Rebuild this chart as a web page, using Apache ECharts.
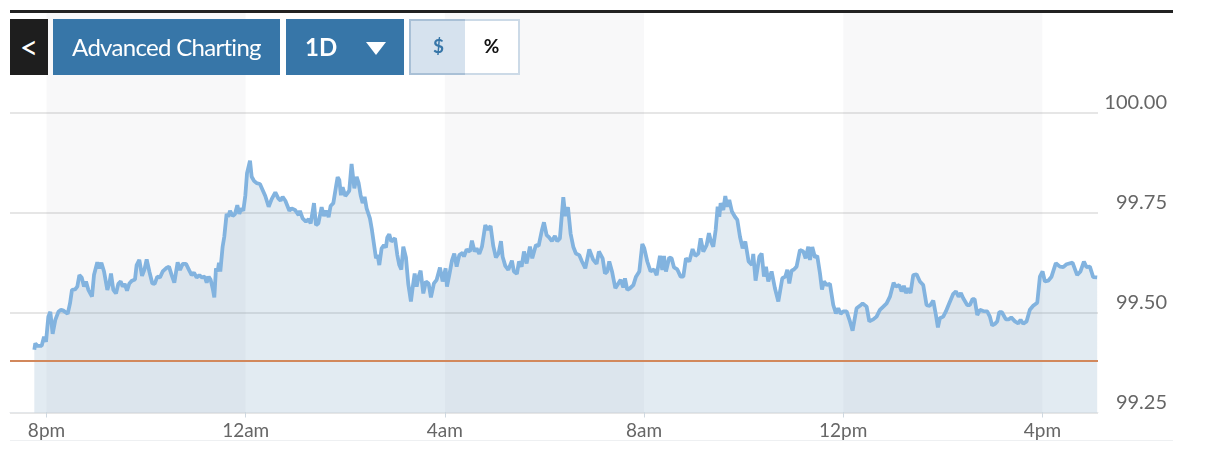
<!DOCTYPE html>
<html>
<head>
<meta charset="utf-8">
<title>1D chart</title>
<script src="https://cdn.jsdelivr.net/npm/echarts@6/dist/echarts.min.js"></script>
<style>
    html, body { margin: 0; padding: 0; background: #fff; font-family: Lato, sans-serif; }
    #wrap { position: relative; width: 1205px; height: 457px; overflow: hidden; }
    #main { position: absolute; left: 0; top: 0; width: 1205px; height: 457px; }
    .rule { position: absolute; left: 10px; width: 1163px; }
    .btn { position: absolute; top: 19px; height: 56px; line-height: 56px; text-align: center; box-sizing: border-box; }
    .blue { background: #3776a8; color: #fff; font-size: 24px; }
</style>
</head>
<body>
<div id="wrap">
    <div id="main"></div>
    <div class="rule" style="top: 10px; height: 3px; background: #222"></div>
    <div class="rule" style="top: 440px; height: 1px; background: #eef0f2"></div>
    <div class="btn" style="left: 10px; width: 38px; background: #1e1e1e; color: #fff; font-size: 32px; line-height: 56px">&lt;</div>
    <div class="btn blue" style="left: 53px; width: 227px; letter-spacing: -0.7px">Advanced Charting</div>
    <div class="btn blue" style="left: 286px; width: 118px; font-weight: 700; text-align: left; padding-left: 19px">1D</div>
    <div style="position: absolute; left: 366px; top: 42px; width: 0; height: 0; border-left: 10px solid transparent; border-right: 10px solid transparent; border-top: 13px solid #fff"></div>
    <div class="btn" style="left: 409px; width: 57px; background: #d6e2ee; border: 2px solid #a9c0d6; border-right: 0; color: #3776a8; font-size: 19px; font-weight: 700; line-height: 50px">$</div>
    <div class="btn" style="left: 465px; width: 55px; background: #fff; border: 2px solid #ccdae7; border-left: 0; color: #111; font-size: 19px; font-weight: 700; line-height: 50px">%</div>
</div>
<script>
    // minutes after 8pm
    var minutes = [
        -14.7, -13.5, -11.0, -8.6, -5.8, -3.0, -0.6, 2.2, 4.6, 7.4, 10.6, 14.3, 17.5, 20.3, 22.7, 25.5, 28.3, 30.7, 34.3, 37.1,
        39.6, 42.4, 45.2, 47.6, 50.4, 52.4, 54.8, 57.2, 61.2, 63.7, 66.1, 69.3, 73.3, 75.7, 77.7, 80.5, 83.7, 86.5, 89.4, 91.8,
        94.2, 97.0, 99.8, 103.0, 106.6, 108.6, 111.8, 115.1, 117.9, 120.7, 123.9, 127.5, 130.3, 133.5, 136.7, 140.0, 144.0, 147.6, 150.8, 154.0,
        158.0, 160.8, 164.1, 168.1, 172.1, 174.9, 177.7, 180.9, 184.1, 187.4, 190.6, 193.0, 195.4, 197.8, 200.2, 202.2, 204.2, 206.2, 207.8, 209.4,
        212.2, 214.2, 217.0, 219.1, 221.1, 224.3, 227.1, 229.9, 232.3, 234.7, 237.1, 239.6, 241.6, 244.0, 245.2, 247.2, 250.0, 253.2, 257.2, 260.4,
        263.6, 267.7, 271.3, 275.7, 279.3, 282.1, 284.5, 287.8, 290.2, 292.6, 295.4, 299.4, 303.8,
        305.4, 308.6, 312.6, 315.8, 318.3, 320.7, 322.3, 324.7, 327.5, 331.5, 334.3, 336.7, 339.9, 342.3, 345.6, 348.8, 350.8, 352.8, 354.8, 356.8,
        360.0, 364.8, 367.6, 370.9, 373.7, 376.1, 378.5, 380.9, 383.3, 385.7, 389.7, 392.1, 393.8, 397.0, 399.0, 401.0, 403.8, 406.6, 409.0, 410.6,
        413.0, 415.4, 419.9, 422.7, 425.1, 427.5, 429.9, 433.1, 435.9, 439.1, 441.1, 443.6, 446.0, 448.4, 450.8, 454.0, 457.2, 460.4, 463.2, 466.8,
        470.1, 474.1, 477.3, 480.9, 482.5, 485.3, 488.5, 491.3, 494.2, 497.4, 501.4, 503.0, 506.2, 510.2, 512.6, 515.8, 518.2, 521.5, 524.7, 528.7,
        531.9, 535.1, 538.3, 541.5, 544.7, 547.6, 549.6, 552.8, 556.4, 560.8, 563.2, 566.8, 569.3, 572.5, 575.3, 578.5, 582.5, 585.3, 589.7, 593.0,
        597.0, 599.4, 602.6, 605.8, 609.0, 612.6, 615.4, 618.6, 622.7, 625.1, 628.3, 631.5, 634.7, 637.9, 641.9, 645.2, 649.2, 654.0, 658.8, 662.8, 665.6,
        666.9, 670.1, 672.9, 675.7, 678.1, 681.4, 685.4, 687.8, 691.8, 695.0, 697.0, 699.8, 703.0, 707.1, 710.3, 714.3, 717.9, 720.3, 723.9, 727.9,
        732.0, 735.2, 739.2, 742.0, 744.0, 746.4, 750.4, 753.2, 756.1, 760.1, 764.1, 767.3, 770.5, 774.5, 778.5, 781.8, 785.4, 788.2, 791.4, 795.4,
        798.2, 800.6, 803.4, 806.3, 808.7, 810.7, 812.3, 815.5, 817.9, 820.3, 822.7, 825.9, 829.5, 832.4, 835.6, 838.8, 842.0, 846.0, 850.0, 851.6,
        854.4, 858.9, 861.7, 864.5, 866.9, 869.7, 873.7, 877.7, 881.8, 883.8, 886.6, 890.2, 892.6, 895.0, 897.8, 900.6, 903.8, 907.9, 911.9, 914.7,
        917.9, 919.9, 922.7, 926.0, 928.7, 932.0, 934.4, 936.8, 940.0, 944.0, 948.0, 951.2, 954.0, 956.9, 960.1, 964.1, 968.1, 971.3, 976.1, 980.1,
        983.4, 988.2, 991.4, 996.2, 1000.2, 1004.2, 1008.3, 1012.3, 1016.3, 1020.7,
        1023.5, 1027.5, 1030.3, 1033.1, 1035.5, 1038.3, 1041.1, 1044.4, 1048.4, 1052.4, 1056.4, 1060.4, 1064.4, 1068.5, 1071.7, 1074.1, 1076.5, 1080.5, 1083.7, 1086.9,
        1089.3, 1092.6, 1095.8, 1099.0, 1101.8, 1104.6, 1107.0, 1109.4, 1112.6, 1115.8, 1118.3, 1121.5, 1124.7, 1128.7, 1133.5, 1136.7, 1139.5, 1142.8, 1145.6, 1148.0,
        1151.2, 1156.0, 1159.2, 1162.4, 1166.9, 1170.9, 1173.7, 1176.9, 1180.9, 1184.9, 1188.9, 1193.8, 1197.0, 1200.2, 1203.0, 1207.0, 1211.0, 1216.2, 1221.1, 1225.1,
        1229.1, 1236.3, 1241.9, 1245.9, 1250.0, 1253.2, 1257.2, 1261.2, 1266.0
    ];
    var prices = [
        99.407, 99.423, 99.417, 99.413, 99.417, 99.440, 99.427, 99.490, 99.502, 99.447, 99.482, 99.502, 99.507, 99.505, 99.507, 99.497, 99.523, 99.557, 99.558, 99.565,
        99.594, 99.588, 99.565, 99.578, 99.557, 99.561, 99.540, 99.594, 99.626, 99.611, 99.625, 99.603, 99.557, 99.573, 99.598, 99.557, 99.548, 99.572, 99.578, 99.565,
        99.572, 99.555, 99.573, 99.580, 99.583, 99.619, 99.632, 99.592, 99.607, 99.633, 99.603, 99.573, 99.572, 99.590, 99.588, 99.603, 99.611, 99.615, 99.594, 99.575,
        99.626, 99.607, 99.622, 99.622, 99.605, 99.594, 99.600, 99.588, 99.594, 99.588, 99.590, 99.575, 99.590, 99.582, 99.561, 99.538, 99.611, 99.603, 99.625, 99.603,
        99.665, 99.690, 99.747, 99.740, 99.755, 99.742, 99.747, 99.769, 99.747, 99.761, 99.755, 99.794, 99.849, 99.849, 99.880, 99.840, 99.830, 99.824, 99.822, 99.807,
        99.792, 99.765, 99.784, 99.801, 99.786, 99.780, 99.790, 99.780, 99.784, 99.755, 99.761, 99.757, 99.744,
        99.755, 99.736, 99.728, 99.734, 99.723, 99.722, 99.774, 99.719, 99.723, 99.764, 99.742, 99.755, 99.739, 99.767, 99.774, 99.815, 99.839, 99.832, 99.794, 99.814,
        99.792, 99.805, 99.872, 99.811, 99.840, 99.824, 99.794, 99.774, 99.790, 99.761, 99.736, 99.707, 99.705, 99.636, 99.644, 99.619, 99.661, 99.669, 99.663, 99.688,
        99.696, 99.678, 99.686, 99.644, 99.619, 99.608, 99.665, 99.638, 99.572, 99.528, 99.561, 99.598, 99.565, 99.590, 99.605, 99.548, 99.578, 99.573, 99.538, 99.573,
        99.582, 99.613, 99.578, 99.611, 99.565, 99.594, 99.630, 99.648, 99.615, 99.644, 99.650, 99.640, 99.658, 99.653, 99.680, 99.653, 99.661, 99.647, 99.665, 99.719,
        99.708, 99.717, 99.667, 99.638, 99.648, 99.679, 99.640, 99.617, 99.607, 99.630, 99.603, 99.597, 99.628, 99.615, 99.653, 99.623, 99.665, 99.636, 99.669, 99.667,
        99.707, 99.726, 99.694, 99.688, 99.679, 99.692, 99.679, 99.686, 99.789, 99.742, 99.764, 99.698, 99.665, 99.648, 99.644, 99.628, 99.611, 99.658, 99.632, 99.622, 99.653,
        99.653, 99.636, 99.598, 99.603, 99.628, 99.603, 99.561, 99.561, 99.582, 99.563, 99.586, 99.557, 99.561, 99.569, 99.590, 99.603, 99.672, 99.661, 99.628, 99.603,
        99.608, 99.594, 99.642, 99.607, 99.642, 99.603, 99.638, 99.636, 99.613, 99.608, 99.590, 99.590, 99.636, 99.628, 99.659, 99.642, 99.648, 99.686, 99.653, 99.669,
        99.699, 99.678, 99.665, 99.707, 99.765, 99.740, 99.774, 99.757, 99.792, 99.765, 99.782, 99.753, 99.740, 99.732, 99.690, 99.661, 99.678, 99.628, 99.619, 99.647,
        99.580, 99.640, 99.648, 99.590, 99.615, 99.578, 99.603, 99.561, 99.528, 99.528, 99.586, 99.590, 99.607, 99.573, 99.605, 99.608, 99.615, 99.657, 99.653, 99.636,
        99.665, 99.632, 99.664, 99.638, 99.642, 99.598, 99.558, 99.578, 99.569, 99.572, 99.519, 99.498, 99.511, 99.497, 99.503, 99.503, 99.478, 99.455, 99.511, 99.517,
        99.523, 99.515, 99.478, 99.483, 99.490, 99.507, 99.515, 99.523, 99.540, 99.575,
        99.565, 99.569, 99.553, 99.567, 99.549, 99.561, 99.549, 99.594, 99.596, 99.578, 99.569, 99.519, 99.517, 99.530, 99.494, 99.463, 99.486, 99.490, 99.503, 99.519,
        99.515, 99.547, 99.553, 99.540, 99.549, 99.536, 99.539, 99.519, 99.519, 99.534, 99.534, 99.494, 99.507, 99.504, 99.503, 99.490, 99.468, 99.472, 99.478, 99.501,
        99.501, 99.483, 99.483, 99.488, 99.478, 99.473, 99.482, 99.472, 99.478, 99.507, 99.517, 99.525, 99.590, 99.603, 99.578, 99.580, 99.590, 99.624, 99.615, 99.614,
        99.621, 99.625, 99.594, 99.603, 99.628, 99.614, 99.615, 99.589, 99.588
    ];
    var previousClose = 99.3755;
    var xTicks = [0, 240, 480, 720, 960, 1200];
    var xTickLabels = ['8pm', '12am', '4am', '8am', '12pm', '4pm'];
    var yTicks = [99.25, 99.5, 99.75, 100];
    var bandStarts = [0, 480, 960];
    var bandLength = 240;

    var pricePoints = [];
    for (var i = 0; i < minutes.length; i++) {
        pricePoints.push([minutes[i], prices[i]]);
    }
    var bandAreas = [];
    for (var b = 0; b < bandStarts.length; b++) {
        bandAreas.push([{xAxis: bandStarts[b]}, {xAxis: bandStarts[b] + bandLength}]);
    }

    var myCharts = echarts.init(document.getElementById('main'));
    var option = {
        animation: false,
        grid: {left: 10, right: 107, top: 13, bottom: 44.5},
        xAxis: {
            type: 'value',
            min: -44,
            max: 1267,
            splitLine: {show: false},
            axisLine: {show: true, lineStyle: {color: '#e4e7ea', width: 1}},
            axisTick: {show: true, customValues: xTicks, length: 5, lineStyle: {color: '#cfd8e0'}},
            axisLabel: {
                customValues: xTicks,
                margin: 9,
                fontFamily: 'Lato',
                fontSize: 19,
                color: '#666',
                formatter: function (value) {
                    return xTickLabels[xTicks.indexOf(value)];
                }
            }
        },
        yAxis: {
            type: 'value',
            position: 'right',
            min: 99.25,
            max: 100.25,
            axisLine: {show: false},
            axisTick: {show: false, customValues: yTicks},
            splitLine: {show: true, lineStyle: {color: '#e6e6e6', width: 2}},
            axisLabel: {
                customValues: yTicks,
                margin: 69,
                align: 'right',
                verticalAlign: 'bottom',
                fontFamily: 'Lato',
                fontSize: 20,
                color: '#666',
                formatter: function (value) {
                    return value.toFixed(2);
                }
            }
        },
        series: [
            {
                name: 'bands',
                type: 'line',
                z: 1,
                silent: true,
                data: [],
                markArea: {
                    silent: true,
                    itemStyle: {color: 'rgba(70,70,100,0.04)'},
                    data: bandAreas
                }
            },
            {
                name: 'price',
                type: 'line',
                z: 3,
                showSymbol: false,
                symbol: 'none',
                lineStyle: {color: '#82b3df', width: 3.8},
                areaStyle: {color: 'rgba(100,150,185,0.27)', origin: 'start'},
                data: pricePoints,
                markLine: {
                    silent: true,
                    symbol: 'none',
                    label: {show: false},
                    lineStyle: {color: '#d2885c', width: 2, type: 'solid'},
                    data: [{yAxis: previousClose}]
                }
            }
        ]
    };
    myCharts.setOption(option);
</script>
</body>
</html>
